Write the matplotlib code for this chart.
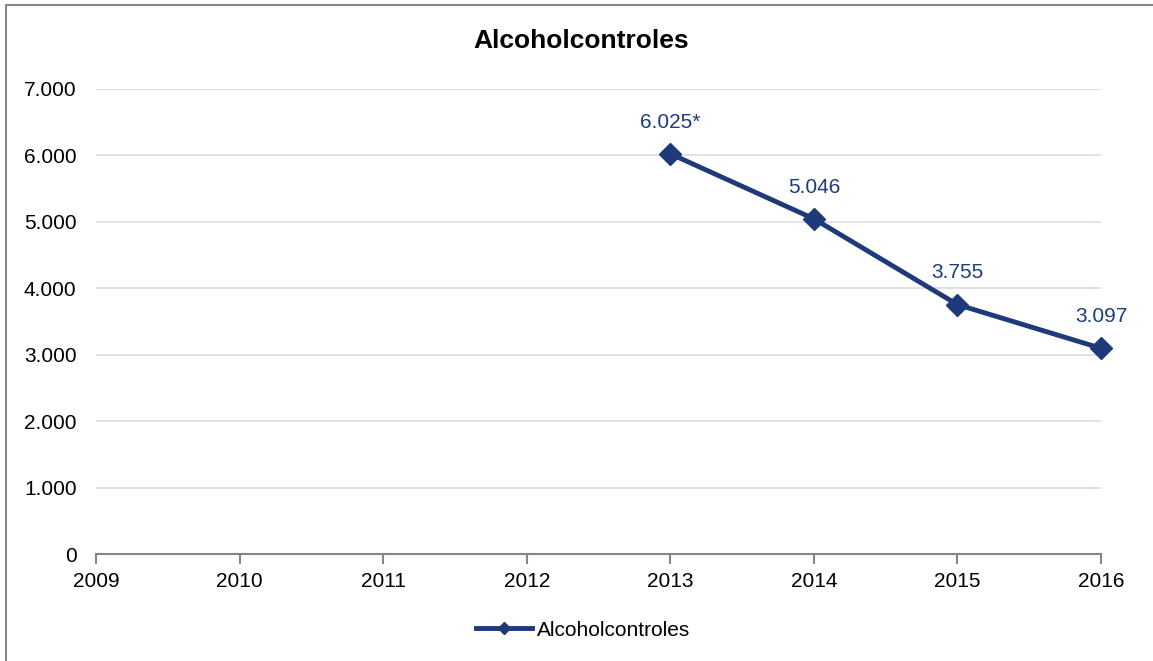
import matplotlib.pyplot as plt
from matplotlib.lines import Line2D

years = [2013, 2014, 2015, 2016]
values = [6025, 5046, 3755, 3097]
labels = ["6.025*", "5.046", "3.755", "3.097"]
xticks = list(range(2009, 2017))
yticks = [0, 1000, 2000, 3000, 4000, 5000, 6000, 7000]
ytick_labels = ["0", "1.000", "2.000", "3.000", "4.000", "5.000", "6.000", "7.000"]

navy = "#1F3A7A"

plt.rcParams['font.family'] = ['Liberation Sans', 'DejaVu Sans']

fig = plt.figure(figsize=(11.53, 6.61), dpi=100)
ax = fig.add_axes([96/1153, 1 - 554/661, (1101 - 96)/1153, (554 - 89)/661])

# borde del grafico (solo izquierda y arriba se ven)
fig.lines.append(Line2D([6/1153, 6/1153, 1], [0, 1 - 5/661, 1 - 5/661],
                        transform=fig.transFigure, color="#878787", linewidth=1.5))

ax.plot(years, values, color=navy, linewidth=3.5, marker="D", markersize=11,
        label="Alcoholcontroles")
for x, y, t in zip(years, values, labels):
    ax.annotate(t, (x, y), xytext=(0, 16), textcoords="offset points",
                ha="center", va="bottom", fontsize=15, color=navy)

ax.set_xlim(2009, 2016)
ax.set_ylim(0, 7000)
ax.set_xticks(xticks)
ax.set_xticklabels([str(x) for x in xticks], fontsize=15)
ax.set_yticks(yticks)
ax.set_yticklabels(ytick_labels, fontsize=15)
ax.grid(axis="y", color="#D9DCE8", linewidth=1.2)
ax.set_axisbelow(True)
for s in ["top", "right", "left"]:
    ax.spines[s].set_visible(False)
ax.spines["bottom"].set_color("#868686")
ax.spines["bottom"].set_linewidth(1.5)
ax.tick_params(axis="x", direction="out", length=7, color="#868686", width=1.5, pad=6)
ax.tick_params(axis="y", length=0, pad=14)
for l in ax.get_lines():
    l.set_clip_on(False)

fig.text(581/1153, 1 - 41/661, "Alcoholcontroles", ha="center", va="center",
         fontsize=19, fontweight="bold")

fig.legend(loc="center", bbox_to_anchor=(583/1153, 1 - 630/661), frameon=False,
           fontsize=15, handlelength=2.7, handletextpad=0.2, markerscale=0.6)

fig.savefig("out.png", dpi=100)
